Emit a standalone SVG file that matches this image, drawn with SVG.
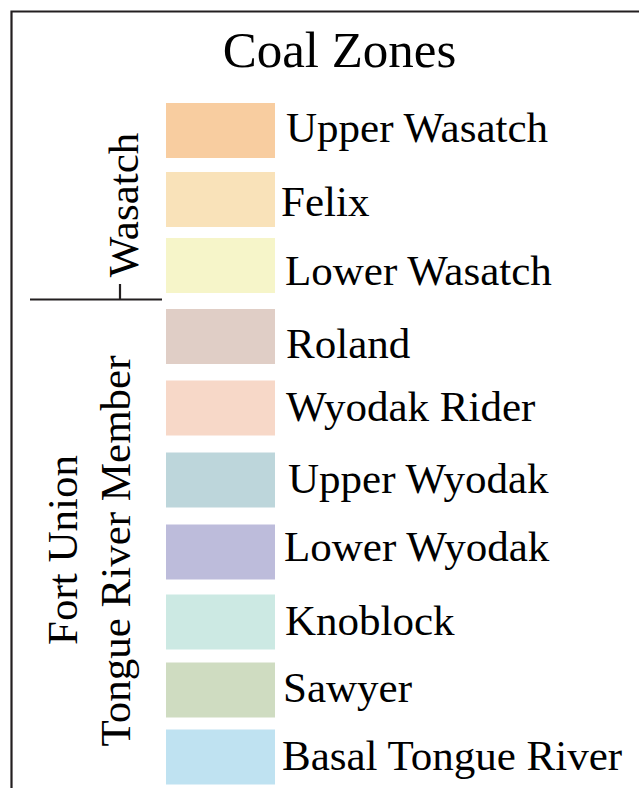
<svg xmlns="http://www.w3.org/2000/svg" width="639" height="788" viewBox="0 0 639 788">
<defs>
<rect id="swatch" width="109" height="55"/>
</defs>
<rect width="639" height="788" fill="#fff"/>
<g id="frame">
<path d="M11.5,788 V11.5 H639" stroke="#231f20" stroke-width="2.2" fill="none"/>
</g>
<g id="title"><text x="339.5" y="66.5" text-anchor="middle" font-size="51" style="font-family:'Liberation Serif',serif">Coal Zones</text></g>
<g id="groups">
<path d="M30,299.5 H162 M120,284 V299.5" stroke="#231f20" stroke-width="2.2" fill="none"/>
<text transform="translate(138,205) rotate(-90)" text-anchor="middle" font-size="43" style="font-family:'Liberation Serif',serif">Wasatch</text>
<text transform="translate(76.5,550) rotate(-90)" text-anchor="middle" font-size="43" style="font-family:'Liberation Serif',serif">Fort Union</text>
<text transform="translate(130,551) rotate(-90)" text-anchor="middle" font-size="43" style="font-family:'Liberation Serif',serif">Tongue River Member</text>
</g>
<g id="upper-wasatch"><use href="#swatch" x="166" y="103" fill="#f8cda0"/><text x="286" y="142" font-size="43" style="font-family:'Liberation Serif',serif">Upper Wasatch</text></g>
<g id="felix"><use href="#swatch" x="166" y="172" fill="#f9e2b9"/><text x="281" y="216" font-size="43" style="font-family:'Liberation Serif',serif">Felix</text></g>
<g id="lower-wasatch"><use href="#swatch" x="166" y="238" fill="#f6f5c9"/><text x="285" y="285" font-size="43" style="font-family:'Liberation Serif',serif">Lower Wasatch</text></g>
<g id="roland"><use href="#swatch" x="166" y="309" fill="#e0cec6"/><text x="286" y="358" font-size="43" style="font-family:'Liberation Serif',serif">Roland</text></g>
<g id="wyodak-rider"><use href="#swatch" x="166" y="380.5" fill="#f7d8c8"/><text x="286" y="421" font-size="43" style="font-family:'Liberation Serif',serif">Wyodak Rider</text></g>
<g id="upper-wyodak"><use href="#swatch" x="166" y="452.5" fill="#bdd6db"/><text x="288" y="493" font-size="43" style="font-family:'Liberation Serif',serif">Upper Wyodak</text></g>
<g id="lower-wyodak"><use href="#swatch" x="166" y="524.5" fill="#bdbcdb"/><text x="284" y="561" font-size="43" style="font-family:'Liberation Serif',serif">Lower Wyodak</text></g>
<g id="knoblock"><use href="#swatch" x="166" y="594.5" fill="#cce9e3"/><text x="285" y="635" font-size="43" style="font-family:'Liberation Serif',serif">Knoblock</text></g>
<g id="sawyer"><use href="#swatch" x="166" y="662.5" fill="#cfdcc1"/><text x="283" y="702" font-size="43" style="font-family:'Liberation Serif',serif">Sawyer</text></g>
<g id="basal-tongue-river"><use href="#swatch" x="166" y="729.5" fill="#bfe2f1"/><text x="282" y="770" font-size="43" style="font-family:'Liberation Serif',serif">Basal Tongue River</text></g>
</svg>
